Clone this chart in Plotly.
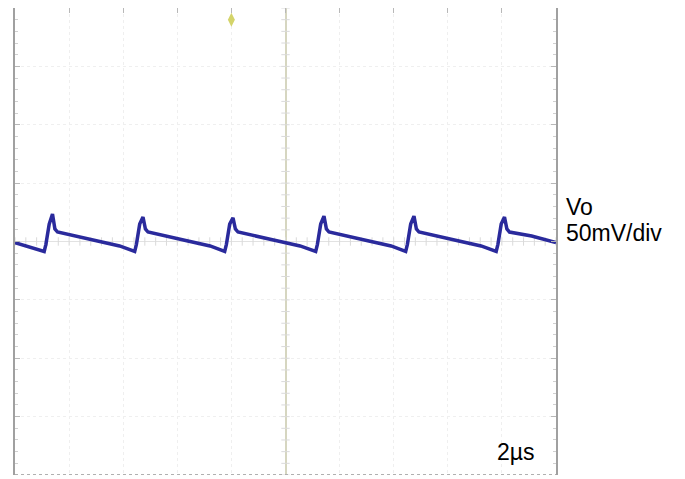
import numpy as np
import plotly.graph_objects as go

# Vo trace vertices: time (us) and voltage (mV)
t_us = [-10.0,
        -8.921, -8.858, -8.736, -8.614, -8.525, -8.429, -6.954, -6.134,
        -5.575, -5.512, -5.390, -5.268, -5.179, -5.083, -3.608, -2.788,
        -2.248, -2.185, -2.063, -1.941, -1.852, -1.756, -0.281, 0.539,
        1.116, 1.179, 1.301, 1.423, 1.512, 1.608, 3.083, 3.903,
        4.443, 4.506, 4.628, 4.750, 4.839, 4.935, 6.410, 7.230,
        7.789, 7.852, 7.974, 8.096, 8.185, 8.281, 9.100, 10.0]
vo_mv = [-1.0,
         -8.5, -2.4, 14.9, 23.5, 10.7, 8.1, 0.5, -3.8,
         -8.5, -2.4, 14.9, 20.9, 10.7, 8.1, 0.5, -3.8,
         -8.5, -2.4, 14.9, 20.3, 10.7, 8.1, 0.5, -3.8,
         -8.5, -2.4, 14.9, 21.7, 10.7, 8.1, 0.5, -3.8,
         -8.5, -2.4, 14.9, 21.7, 10.7, 8.1, 0.5, -3.8,
         -8.5, -2.4, 14.9, 20.9, 10.7, 8.1, 4.7, -1.0]

x_range = [-10, 10]      # 10 div x 2 us/div
y_range = [-200, 200]    # 8 div x 50 mV/div
trigger_t = [-2.0]

fig = go.Figure()

# centre cross-hair minor ticks (decoration)
xt = np.arange(-10, 10.001, 0.4)
yt = np.arange(-200, 200.001, 10)
fig.add_trace(go.Scatter(x=xt, y=[0] * len(xt), mode="markers",
                         marker=dict(symbol="line-ns", size=6, line=dict(width=1, color="#dadada")),
                         hoverinfo="skip", showlegend=False))
fig.add_trace(go.Scatter(x=[0] * len(yt), y=yt, mode="markers",
                         marker=dict(symbol="line-ew", size=6, line=dict(width=1, color="#dadada")),
                         hoverinfo="skip", showlegend=False))

fig.add_trace(go.Scatter(x=t_us, y=vo_mv, mode="lines",
                         line=dict(color="#2a2a9c", width=3.5),
                         showlegend=False))

# trigger marker
fig.add_trace(go.Scatter(x=trigger_t, y=[190], mode="markers",
                         marker=dict(symbol="diamond-tall", size=10, color="#d4d46a"),
                         hoverinfo="skip", showlegend=False))

fig.add_shape(type="line", xref="x", yref="y", x0=x_range[0], x1=x_range[1], y0=y_range[0], y1=y_range[0],
              line=dict(color="#b0b0b0", width=2, dash="dot"))

fig.update_xaxes(range=x_range, dtick=2, showgrid=True, gridcolor="#efefef", griddash="dot",
                 zeroline=True, zerolinecolor="#d6d6c0", zerolinewidth=1.5,
                 showline=True, linecolor="#a0a0a0", linewidth=2, side="top",
                 ticks="inside", ticklen=5, tickcolor="#b8b8b8",
                 showticklabels=False, fixedrange=True)
fig.update_yaxes(range=y_range, dtick=50, showgrid=True, gridcolor="#efefef", griddash="dot",
                 zeroline=True, zerolinecolor="#e2e2e2", zerolinewidth=1,
                 showline=True, linecolor="#a0a0a0", linewidth=2, mirror="allticks",
                 ticks="inside", ticklen=5, tickcolor="#b8b8b8",
                 minor=dict(ticks="inside", ticklen=3, dtick=10, tickcolor="#d0d0d0"),
                 showticklabels=False, fixedrange=True)

font = dict(family="Liberation Sans, Arial, sans-serif", size=23, color="black")
fig.add_annotation(text="Vo", xref="paper", yref="paper", x=1.015, y=0.5739,
                   xanchor="left", yanchor="middle", showarrow=False, font=font)
fig.add_annotation(text="50mV/div", xref="paper", yref="paper", x=1.015, y=0.5182,
                   xanchor="left", yanchor="middle", showarrow=False, font=font)
fig.add_annotation(text="2µs", xref="paper", yref="paper", x=0.964, y=0.0493,
                   xanchor="right", yanchor="middle", showarrow=False, font=font)

# page body has an 8px default margin, so margins are offset accordingly
fig.update_layout(width=685, height=479, margin=dict(l=7, r=137, t=0, b=12),
                  paper_bgcolor="white", plot_bgcolor="white")

fig.write_html("out.html")
